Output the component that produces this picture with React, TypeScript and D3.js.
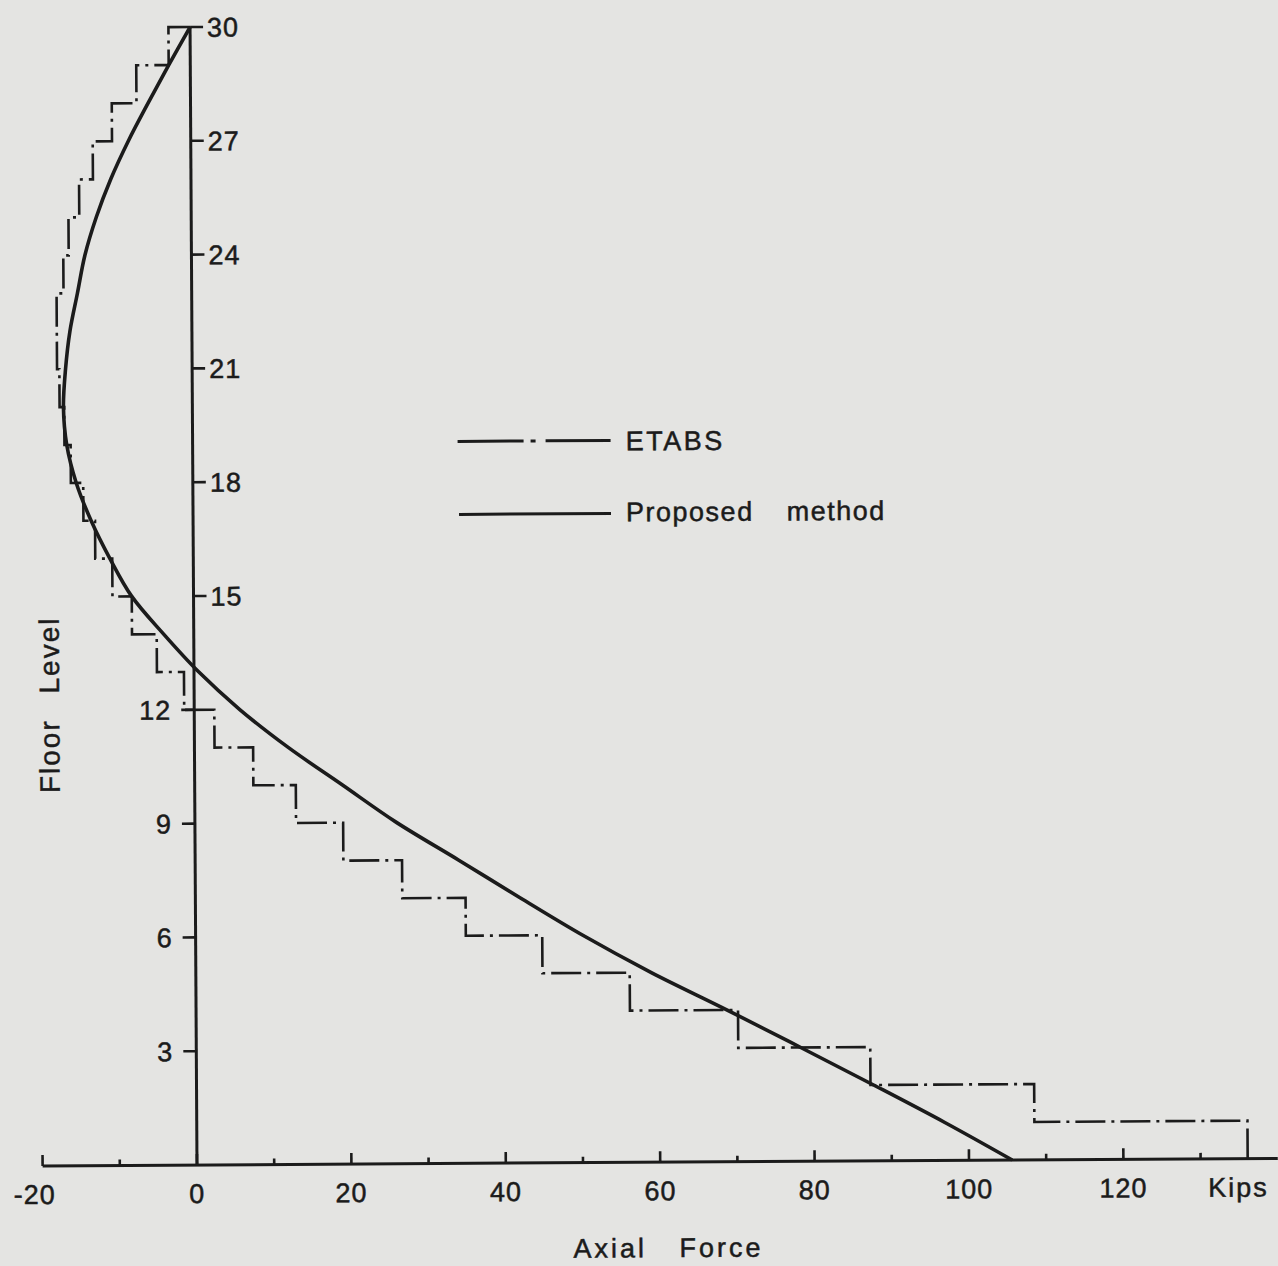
import React from 'react';
import * as d3 from 'd3';

// Floor levels for the proposed-method curve (index-aligned with proposedForce)
const floorLevels = [0, 1, 2, 3, 4, 5, 6, 7, 8, 9, 10, 11, 12, 13, 14, 15, 16, 17, 18, 19, 20, 21, 22, 23, 24, 25, 26, 27, 28, 29, 30];
const proposedForce = [105.6, 96.9, 87.7, 78.3, 68.8, 59.0, 50.1, 42.0, 34.1, 26.1, 19.1, 12.1, 5.9, 0.6, -3.9, -8.0, -10.8, -13.2, -15.1, -16.3, -16.7, -16.4, -15.8, -14.8, -13.8, -12.3, -10.4, -8.1, -5.5, -2.8, 0];

// ETABS: one constant value per storey (storey i lies between level i-1 and level i)
const stories = [1, 2, 3, 4, 5, 6, 7, 8, 9, 10, 11, 12, 13, 14, 15, 16, 17, 18, 19, 20, 21, 22, 23, 24, 25, 26, 27, 28, 29, 30];
const etabsForce = [136.1, 108.5, 87.3, 70.2, 56.2, 44.9, 35.0, 26.8, 19.2, 13.1, 7.6, 2.6, -1.3, -4.8, -8.0, -10.5, -12.7, -14.2, -15.8, -16.6, -17.2, -17.5, -17.5, -16.6, -15.9, -14.5, -12.7, -10.2, -7.0, -2.8];

const xMajorTicks = [-20, 0, 20, 40, 60, 80, 100, 120];
const xMinorTicks = [-10, 10, 30, 50, 70, 90, 110, 130];
const yTicksRight = [30, 27, 24, 21, 18, 15];
const yTicksLeft = [12, 9, 6, 3];

const W = 1278;
const H = 1266;
const INK = '#1b1b1b';
const FONT = '"Liberation Sans", Arial, sans-serif';

export default function App() {
  const x = d3.scaleLinear().domain([-20, 140]).range([197 - 20 * 7.72, 197 + 140 * 7.72]);
  const y = d3.scaleLinear().domain([0, 30]).range([1165, 27]);

  const proposedPts: [number, number][] = floorLevels.map((lv, i) => [proposedForce[i], lv]);
  const proposedPath = d3
    .line<[number, number]>()
    .x((d) => x(d[0]))
    .y((d) => y(d[1]))
    .curve(d3.curveCatmullRom.alpha(0.5))(proposedPts) as string;

  const etabsPts: [number, number][] = [];
  stories.forEach((s, i) => {
    etabsPts.push([etabsForce[i], s - 1]);
    etabsPts.push([etabsForce[i], s]);
  });
  etabsPts.push([0, 30]);
  const etabsPath = d3
    .line<[number, number]>()
    .x((d) => x(d[0]))
    .y((d) => y(d[1]))(etabsPts) as string;

  const x0 = x(0);
  const yBase = y(0);
  const textStyle = { fontFamily: FONT, fill: INK, stroke: INK, strokeWidth: 0.5 } as React.CSSProperties;

  return (
    <svg width={W} height={H} style={{ position: 'absolute', left: 0, top: 0 }} xmlns="http://www.w3.org/2000/svg">
      <rect x={0} y={0} width={W} height={H} fill="#e4e4e2" />
      <g transform={`rotate(-0.35, ${x0}, ${yBase})`}>
        {/* x axis */}
        <line x1={x(-20)} x2={x(140)} y1={yBase} y2={yBase} stroke={INK} strokeWidth={3} />
        {xMajorTicks.map((t) => (
          <line key={'M' + t} x1={x(t)} x2={x(t)} y1={yBase} y2={yBase - 11} stroke={INK} strokeWidth={2.6} />
        ))}
        {xMinorTicks.map((t) => (
          <line key={'m' + t} x1={x(t)} x2={x(t)} y1={yBase} y2={yBase - 6} stroke={INK} strokeWidth={2.6} />
        ))}
        {xMajorTicks.map((t) => (
          <text
            key={'l' + t}
            x={x(t)}
            y={yBase + 38}
            dx={t < 0 ? -8 : 0}
            textAnchor="middle"
            fontSize={27}
            letterSpacing={1}
            style={textStyle}
          >
            {t < 0 ? '-' + Math.abs(t) : String(t)}
          </text>
        ))}
        <text x={1208} y={yBase + 38} fontSize={27} letterSpacing={2} style={textStyle}>
          Kips
        </text>
        <text x={668} y={1260} textAnchor="middle" fontSize={27} letterSpacing={3} wordSpacing={22} style={textStyle}>
          Axial Force
        </text>

        {/* y axis */}
        <line x1={x0} x2={x0} y1={yBase} y2={y(30)} stroke={INK} strokeWidth={3} />
        {yTicksRight.map((t) => (
          <g key={'r' + t}>
            <line x1={x0} x2={x0 + 13} y1={y(t)} y2={y(t)} stroke={INK} strokeWidth={2.6} />
            <text x={x0 + 17} y={y(t)} dy="0.36em" fontSize={27} letterSpacing={1} style={textStyle}>
              {t}
            </text>
          </g>
        ))}
        {yTicksLeft.map((t) => (
          <g key={'lft' + t}>
            <line x1={x0} x2={x0 - 13} y1={y(t)} y2={y(t)} stroke={INK} strokeWidth={2.6} />
            <text x={x0 - 23} y={y(t)} dy="0.36em" textAnchor="end" fontSize={27} letterSpacing={1} style={textStyle}>
              {t}
            </text>
          </g>
        ))}
        <text
          transform="translate(62, 704) rotate(-90)"
          textAnchor="middle"
          fontSize={28}
          letterSpacing={2}
          wordSpacing={16}
          style={textStyle}
        >
          Floor Level
        </text>

        {/* series */}
        <path d={etabsPath} fill="none" stroke={INK} strokeWidth={2.6} strokeDasharray="30 6 3 6" />
        <path d={proposedPath} fill="none" stroke={INK} strokeWidth={3.6} />

        {/* legend */}
        <line x1={462} x2={615} y1={443} y2={443} stroke={INK} strokeWidth={3} strokeDasharray="66 7 5 10 65 100" />
        <text x={630} y={453} fontSize={27} letterSpacing={2.5} style={textStyle}>
          ETABS
        </text>
        <line x1={463} x2={615} y1={516} y2={516} stroke={INK} strokeWidth={3} />
        <text x={630} y={524} fontSize={27} letterSpacing={1.5} wordSpacing={24} style={textStyle}>
          Proposed method
        </text>
      </g>
    </svg>
  );
}
